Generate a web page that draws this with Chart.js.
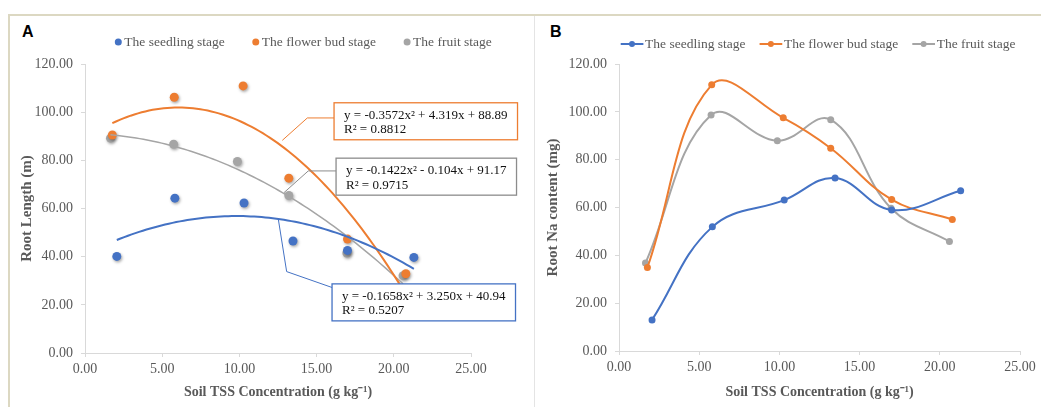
<!DOCTYPE html>
<html>
<head>
<meta charset="utf-8">
<script src="https://cdn.jsdelivr.net/npm/chart.js@4.4.0/dist/chart.umd.min.js"></script>
<style>
  body { margin: 0; background: #fff; width: 1041px; height: 407px; overflow: hidden; position: relative; }
  #frame { position: absolute; left: 8px; top: 14px; width: 1040px; height: 400px; border-top: 2px solid #dcd8c2; border-left: 2px solid #dcd8c2; }
  #sep { position: absolute; left: 534px; top: 16px; width: 1px; height: 391px; background: #e4e4e4; }
  .tag { position: absolute; font: bold 16px "Liberation Sans", Arial, sans-serif; color: #000; }
  #leftChart { position: absolute; left: 10px; top: 15px; }
  #rightChart { position: absolute; left: 535px; top: 15px; }
</style>
</head>
<body>
<div id="frame"></div>
<div id="sep"></div>
<div class="tag" style="left:22px;top:23px;">A</div>
<div class="tag" style="left:550px;top:23px;">B</div>
<canvas id="leftChart" width="523" height="392"></canvas>
<canvas id="rightChart" width="506" height="392"></canvas>
<script>
// stages
const stageNames = ['The seedling stage', 'The flower bud stage', 'The fruit stage'];
const stageColors = ['#4472C4', '#ED7D31', '#A5A5A5'];

// soil TSS concentration (g kg-1) per stage
const tssSeedling = [2.06, 5.82, 10.30, 13.47, 17.00, 21.30];
const tssFlower = [1.77, 5.78, 10.24, 13.20, 17.00, 20.78];
const tssFruit = [1.65, 5.74, 9.87, 13.20, 16.96, 20.60];

// panel A - root length (m)
const lengthSeedling = [40.1, 64.3, 62.3, 46.5, 42.6, 39.7];
const lengthFlower = [90.5, 106.2, 110.9, 72.6, 47.3, 32.9];
const lengthFruit = [89.2, 86.7, 79.5, 65.4, 41.5, 32.1];

// polynomial trendlines shown in panel A (a, b, c of ax^2 + bx + c)
const fitSeedling = [-0.1658, 3.250, 40.94];
const fitFlower = [-0.3572, 4.319, 88.89];
const fitFruit = [-0.1422, -0.104, 91.17];
const fitTextSeedling = ['y = -0.1658x² + 3.250x + 40.94', 'R² = 0.5207'];
const fitTextFlower = ['y = -0.3572x² + 4.319x + 88.89', 'R² = 0.8812'];
const fitTextFruit = ['y = -0.1422x² - 0.104x + 91.17', 'R² = 0.9715'];

// panel B - root Na content (mg)
const naSeedling = [13.0, 51.9, 63.1, 72.3, 59.0, 67.0];
const naFlower = [34.9, 111.3, 97.5, 84.8, 63.3, 55.0];
const naFruit = [36.8, 98.7, 87.9, 96.7, 59.7, 45.8];

// axes
const xMin = 0, xMax = 25, xStep = 5;
const yMin = 0, yMax = 120, yStep = 20;
const xTitle = 'Soil TSS Concentration (g kg⁻¹)';

const serif = '"Liberation Serif", "Times New Roman", serif';
const greyText = '#595959';
const axisGrey = '#d9d9d9';

function toPoints(xs, ys) {
    return xs.map((x, i) => ({ x: x, y: ys[i] }));
}

// trendline sampled from the equation printed on the chart
function trendPoints(coef, xs) {
    const lo = Math.min(...xs), hi = Math.max(...xs);
    const pts = [];
    for (let i = 0; i <= 80; i++) {
        const x = lo + (hi - lo) * i / 80;
        pts.push({ x: x, y: coef[0] * x * x + coef[1] * x + coef[2] });
    }
    return pts;
}

function xAxis(height) {
    return {
        type: 'linear', min: xMin, max: xMax,
        ticks: { stepSize: xStep, padding: 4, maxRotation: 0, color: greyText,
                 font: { family: serif, size: 14 }, callback: v => v.toFixed(2) },
        grid: { drawOnChartArea: false, drawTicks: true, tickLength: 4, color: axisGrey },
        border: { color: axisGrey },
        title: { display: true, text: xTitle, color: greyText,
                 font: { family: serif, size: 14, weight: 'bold' }, padding: { top: 0, bottom: 6 } },
        afterFit: s => { s.height = height; }
    };
}

function yAxis(width, title, titlePad) {
    return {
        type: 'linear', min: yMin, max: yMax,
        ticks: { stepSize: yStep, padding: 8, color: greyText,
                 font: { family: serif, size: 14 }, callback: v => v.toFixed(2) },
        grid: { drawOnChartArea: false, drawTicks: true, tickLength: 4, color: axisGrey },
        border: { color: axisGrey },
        title: { display: true, text: title, color: greyText,
                 font: { family: serif, size: 15, weight: 'bold' }, padding: { top: titlePad, bottom: 0 } },
        afterFit: s => { s.width = width; }
    };
}

// soft shadow under scatter markers (like the Excel original)
const markerShadow = {
    id: 'markerShadow',
    beforeDatasetDraw(chart, args) {
        if (!args.meta._dataset.shadow) return;
        const ctx = chart.ctx;
        ctx.save();
        ctx.shadowColor = 'rgba(0,0,0,0.35)';
        ctx.shadowBlur = 3;
        ctx.shadowOffsetX = 1;
        ctx.shadowOffsetY = 1.5;
    },
    afterDatasetDraw(chart, args) {
        if (args.meta._dataset.shadow) chart.ctx.restore();
    }
};

// legend drawn like the Excel one
const stageLegend = {
    id: 'stageLegend',
    afterDraw(chart, args, opts) {
        const ctx = chart.ctx;
        ctx.save();
        ctx.font = '13.5px ' + serif;
        ctx.textBaseline = 'middle';
        let x = opts.x;
        const y = opts.y;
        stageNames.forEach((name, i) => {
            let tx;
            ctx.fillStyle = stageColors[i];
            ctx.strokeStyle = stageColors[i];
            if (opts.marker === 'dot') {
                ctx.beginPath();
                ctx.arc(x, y, 3.5, 0, Math.PI * 2);
                ctx.fill();
                tx = x + 6;
            } else {
                ctx.lineWidth = 2;
                ctx.beginPath();
                ctx.moveTo(x, y);
                ctx.lineTo(x + 22.7, y);
                ctx.stroke();
                ctx.beginPath();
                ctx.arc(x + 11.3, y, 3, 0, Math.PI * 2);
                ctx.fill();
                tx = x + 24.4;
            }
            ctx.fillStyle = greyText;
            ctx.fillText(name, tx, y);
            x = tx + ctx.measureText(name).width + opts.gap;
        });
        ctx.restore();
    }
};

// trendline equation boxes with leader lines (positions in data units)
const noteBoxes = {
    id: 'noteBoxes',
    afterDraw(chart, args, opts) {
        const ctx = chart.ctx;
        const xs = chart.scales.x, ys = chart.scales.y;
        ctx.save();
        ctx.font = '13px ' + serif;
        opts.notes.forEach(n => {
            const px = v => xs.getPixelForValue(v);
            const py = v => ys.getPixelForValue(v);
            ctx.strokeStyle = n.color;
            ctx.lineWidth = 1;
            ctx.beginPath();
            n.leader.forEach((p, i) => {
                if (i === 0) ctx.moveTo(px(p[0]), py(p[1]));
                else ctx.lineTo(px(p[0]), py(p[1]));
            });
            ctx.stroke();
            const left = px(n.at[0]), top = py(n.at[1]);
            const w = Math.max(...n.text.map(t => ctx.measureText(t).width)) + 20;
            const h = 37;
            ctx.fillStyle = '#fff';
            ctx.fillRect(left, top, w, h);
            ctx.lineWidth = 1.3;
            ctx.strokeRect(left, top, w, h);
            ctx.fillStyle = '#111';
            ctx.textBaseline = 'middle';
            n.text.forEach((t, i) => ctx.fillText(t, left + 10, top + 12.5 + i * 14.5));
        });
        ctx.restore();
    }
};

const lengthSeries = [lengthSeedling, lengthFlower, lengthFruit];
const naSeries = [naSeedling, naFlower, naFruit];
const tssSeries = [tssSeedling, tssFlower, tssFruit];
const fits = [fitSeedling, fitFlower, fitFruit];

const leftDatasets = [];
fits.forEach((f, i) => {
    leftDatasets.push({
        label: stageNames[i] + ' trend', data: trendPoints(f, tssSeries[i]), showLine: true,
        borderColor: stageColors[i], borderWidth: i === 2 ? 1.5 : 2, pointRadius: 0, fill: false
    });
});
lengthSeries.forEach((s, i) => {
    leftDatasets.push({
        label: stageNames[i], data: toPoints(tssSeries[i], s), shadow: true,
        backgroundColor: stageColors[i], borderWidth: 0, pointRadius: 4.5
    });
});

new Chart(document.getElementById('leftChart'), {
    type: 'scatter',
    data: { datasets: leftDatasets },
    plugins: [markerShadow, stageLegend, noteBoxes],
    options: {
        responsive: false, animation: false,
        layout: { padding: { top: 49, right: 62, bottom: 0, left: 0 } },
        scales: { x: xAxis(54), y: yAxis(75, 'Root Length (m)', 8) },
        plugins: {
            legend: { display: false }, tooltip: { enabled: false },
            stageLegend: { x: 108.3, y: 27, marker: 'dot', gap: 31 },
            noteBoxes: {
                notes: [
                    { text: fitTextFlower, color: stageColors[1], at: [16.13, 103.9],
                      leader: [[16.13, 97.6], [14.40, 97.6], [12.78, 88.3]] },
                    { text: fitTextFruit, color: '#8c8c8c', at: [16.26, 80.9],
                      leader: [[16.26, 75.6], [14.46, 75.6], [12.89, 66.6]] },
                    { text: fitTextSeedling, color: stageColors[0], at: [16.0, 28.7],
                      leader: [[16.0, 27.2], [13.06, 33.8], [12.52, 55.6]] }
                ]
            }
        }
    }
});

new Chart(document.getElementById('rightChart'), {
    type: 'scatter',
    data: {
        datasets: naSeries.map((s, i) => ({
            label: stageNames[i], data: toPoints(tssSeries[i], s), showLine: true, tension: 0.4,
            borderColor: stageColors[i], backgroundColor: stageColors[i], borderWidth: 2,
            pointRadius: 3.5, pointBorderWidth: 0
        }))
    },
    plugins: [stageLegend],
    options: {
        responsive: false, animation: false,
        layout: { padding: { top: 49, right: 21, bottom: 0, left: 0 } },
        scales: { x: xAxis(56), y: yAxis(84, 'Root Na content (mg)', 9) },
        plugins: {
            legend: { display: false }, tooltip: { enabled: false },
            stageLegend: { x: 85.7, y: 29, marker: 'line', gap: 14 }
        }
    }
});
</script>
</body>
</html>
